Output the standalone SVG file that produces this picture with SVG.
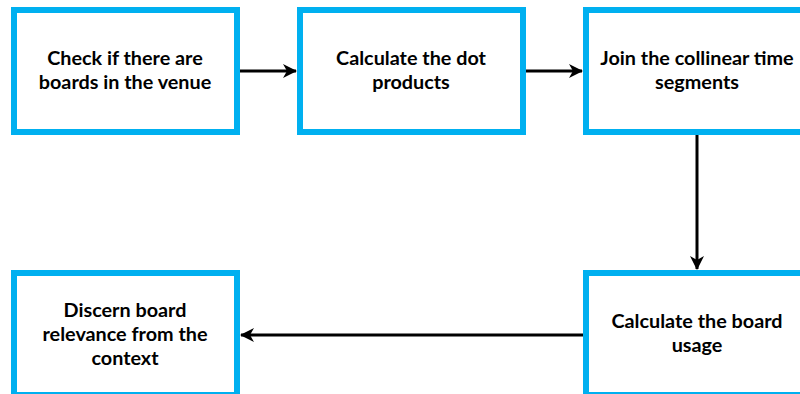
<svg xmlns="http://www.w3.org/2000/svg" width="800" height="394" viewBox="0 0 800 394">
<defs>
<style>
.box{fill:#fff;stroke:#00b0f0;stroke-width:6}
.t{font-family:Lato,"Open Sans",sans-serif;font-weight:bold;font-size:19.8px;fill:#000;text-anchor:middle}
.c{stroke:#000;stroke-width:3;fill:none}
</style>
<marker id="ah" viewBox="0 0 14 14" refX="13" refY="7" markerWidth="14" markerHeight="14" markerUnits="userSpaceOnUse" orient="auto">
<path d="M0,0 L14,7 L0,14 L4,7 Z" fill="#000"/>
</marker>
</defs>
<rect width="800" height="394" fill="#fff"/>
<g id="connectors">
<line class="c" x1="238" y1="71" x2="296" y2="71" marker-end="url(#ah)"/>
<line class="c" x1="524" y1="71" x2="582" y2="71" marker-end="url(#ah)"/>
<line class="c" x1="697" y1="134" x2="697" y2="269" marker-end="url(#ah)"/>
<line class="c" x1="584" y1="335" x2="241" y2="335" marker-end="url(#ah)"/>
</g>
<g id="n1">
<rect class="box" x="14" y="10" width="223" height="122"/>
<text class="t" x="125" y="65">Check if there are</text>
<text class="t" x="125" y="89">boards in the venue</text>
</g>
<g id="n2">
<rect class="box" x="300" y="10" width="223" height="122"/>
<text class="t" x="411" y="65">Calculate the dot</text>
<text class="t" x="411" y="89">products</text>
</g>
<g id="n3">
<rect class="box" x="586" y="10" width="223" height="122"/>
<text class="t" x="697" y="65">Join the collinear time</text>
<text class="t" x="697" y="89">segments</text>
</g>
<g id="n4">
<rect class="box" x="586" y="273" width="223" height="122"/>
<text class="t" x="697" y="328">Calculate the board</text>
<text class="t" x="697" y="352">usage</text>
</g>
<g id="n5">
<rect class="box" x="14" y="273" width="223" height="122"/>
<text class="t" x="125" y="317">Discern board</text>
<text class="t" x="125" y="341">relevance from the</text>
<text class="t" x="125" y="365">context</text>
</g>
</svg>
